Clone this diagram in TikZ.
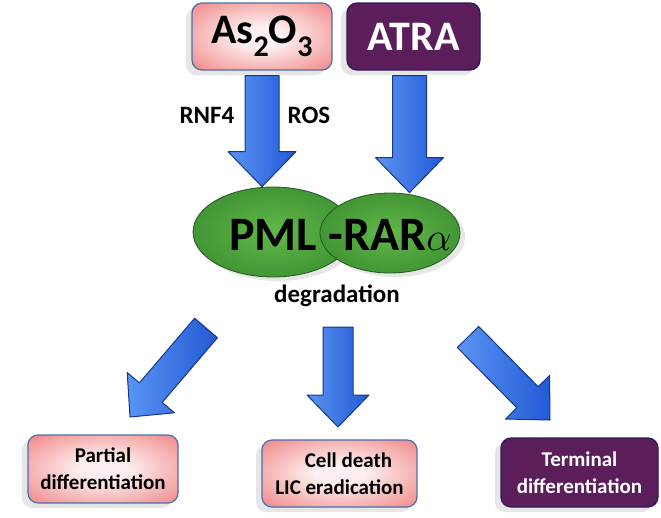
\documentclass[tikz,border=0pt]{standalone}
\usepackage{fontspec}
\setmainfont{Carlito}
\usetikzlibrary{shapes.geometric,calc,shadows}

\definecolor{boxpink}{HTML}{EE6E6E}
\definecolor{boxcore}{HTML}{FDEFEF}
\definecolor{boxedge}{HTML}{4D6FAE}
\definecolor{atrapurple}{HTML}{5C1E5B}
\definecolor{purpleedge}{HTML}{2B1A5A}
\definecolor{pmlgreen}{HTML}{287A24}
\definecolor{pmllight}{HTML}{62B84A}
\definecolor{pmledge}{HTML}{235A1E}
\definecolor{arrowblue}{HTML}{2259D6}
\definecolor{arrowlight}{HTML}{5A95F2}
\definecolor{arrowedge}{HTML}{17358A}

\pgfdeclareradialshading{pinkglow}{\pgfpoint{0bp}{0bp}}{color(0bp)=(boxcore); color(8bp)=(boxcore); color(42bp)=(boxpink); color(100bp)=(boxpink)}
\pgfdeclareradialshading{greenglow}{\pgfpoint{0bp}{0bp}}{color(0bp)=(pmllight); color(45bp)=(pmlgreen); color(100bp)=(pmlgreen)}

% subscript as in the slide
\newcommand{\lowidx}[1]{\raisebox{-0.3em}{\fontsize{30}{30}\selectfont#1}}

% fat block arrow from #2 to #3
\def\shaft{17pt}
\def\head{34pt}
\def\headlen{35pt}
\newcommand{\fatarrow}[3][]{%
  \coordinate (fahead) at ($(#3)!\headlen!(#2)$);
  \draw[fatarrow,#1] ($(#2)!\shaft!90:(#3)$) -- ($(fahead)!\shaft!90:(#3)$)
    -- ($(fahead)!\head!90:(#3)$) -- (#3) -- ($(fahead)!\head!-90:(#3)$)
    -- ($(fahead)!\shaft!-90:(#3)$) -- ($(#2)!\shaft!-90:(#3)$) -- cycle;}

\tikzset{
  pinkbox/.style={draw=boxedge, line width=1.2pt, rounded corners=10pt, shade, shading=pinkglow,
    align=center, inner sep=0pt, drop shadow={shadow xshift=-6pt, shadow yshift=-5pt, opacity=.2}},
  purplebox/.style={draw=purpleedge, line width=1.2pt, rounded corners=10pt, fill=atrapurple,
    text=white, align=center, inner sep=0pt, drop shadow={shadow xshift=-6pt, shadow yshift=-5pt, opacity=.2}},
  blob/.style={ellipse, draw=pmledge, line width=.8pt, shade, shading=greenglow, inner sep=0pt,
    drop shadow={shadow xshift=5pt, shadow yshift=-4pt, opacity=.2}},
  fatarrow/.style={draw=arrowedge, line width=1pt, left color=arrowlight, right color=arrowblue, line join=round},
  toptxt/.style={font=\bfseries\fontsize{42}{44}\selectfont},
  bigtxt/.style={font=\bfseries\fontsize{48}{48}\selectfont, inner sep=0pt},
  lbl/.style={font=\bfseries\fontsize{25}{25}\selectfont, inner sep=0pt},
  outtxt/.style={font=\bfseries\fontsize{21}{27}\selectfont}
}

\begin{document}
\begin{tikzpicture}[x=1pt,y=-1pt]
    \useasboundingbox (0,0) rectangle (661,517);

    % Drugs on top
    \node[pinkbox, toptxt, minimum width=140pt, minimum height=67pt] (as) at (262,36.5) {As\lowidx{2}O\lowidx{3}};
    \node[purplebox, toptxt, minimum width=133pt, minimum height=67pt] (atra) at (413.5,36.5) {ATRA};

    % The fusion protein
    \node[blob, minimum width=160pt, minimum height=90pt] (pml) at (273,232) {};
    \node[blob, minimum width=140pt, minimum height=80pt] (rar) at (390,233) {};
    \node[bigtxt, anchor=base] (pmltxt) at (273,250) {PML};
    \node[bigtxt, anchor=base] (rartxt) at (390,250) {-RAR\scalebox{1.6}{$\alpha$}};
    \node[lbl, anchor=base] (deg) at (337,302) {degradation};

    % Arrows down to PML-RARa
    \coordinate (astail) at ($(as.south)+(0,5)$);
    \coordinate (astip) at (as.south |- pml.north);
    \coordinate (atratail) at ($(atra.south)+(0,5)-(4,0)$);
    \coordinate (atratip) at ($(atra.south |- rar.north)-(4,0)$);
    \fatarrow{astail}{astip}
    \fatarrow{atratail}{atratip}
    \node[lbl, anchor=base] (rnf) at (207,123) {RNF4};
    \node[lbl, anchor=base] (ros) at (309,123) {ROS};

    % Outcomes
    \node[pinkbox, outtxt, minimum width=150pt, minimum height=68pt] (part) at (103,469) {Partial\\differentiation};
    \node[pinkbox, outtxt, minimum width=155pt, minimum height=67pt] (death) at (339.5,473.5) {\hspace*{18pt}Cell death\\LIC eradication};
    \node[purplebox, outtxt, minimum width=157pt, minimum height=69pt] (term) at (579.5,472.5) {Terminal\\differentiation};

    % Arrows to the outcomes
    \def\shaft{15pt}
    \def\head{31pt}
    \def\headlen{32pt}
    \coordinate (parttail) at (206,328);
    \coordinate (parttip) at (130,417);
    \coordinate (deathtail) at (338,327);
    \coordinate (deathtip) at (338,427);
    \coordinate (termtail) at (468,337);
    \coordinate (termtip) at (550,420);
    \fatarrow{parttail}{parttip}
    \fatarrow{deathtail}{deathtip}
    \fatarrow{termtail}{termtip}
\end{tikzpicture}
\end{document}
